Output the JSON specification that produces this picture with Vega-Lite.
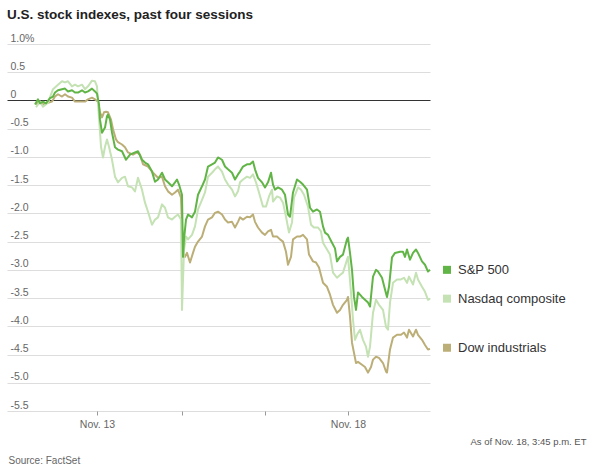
{
"$schema": "https://vega.github.io/schema/vega-lite/v6.json",
"width": 423, "height": 367,
"autosize": {"type": "none"},
"padding": {"left": 7, "top": 44, "right": 162, "bottom": 60},
"background": "white",
"config": {"view": {"stroke": null}},
"title": {"text": "U.S. stock indexes, past four sessions", "anchor": "start", "frame": "group", "font": "Liberation Sans", "fontSize": 13.5, "fontWeight": "bold", "color": "#222222", "offset": 12},
"datasets": {
"series": [
{"s":"Dow industrials","t":36,"v":-0.07},{"s":"Dow industrials","t":40,"v":-0.02},{"s":"Dow industrials","t":43,"v":-0.07},{"s":"Dow industrials","t":48,"v":-0.04},{"s":"Dow industrials","t":52,"v":-0.02},{"s":"Dow industrials","t":55,"v":0.07},{"s":"Dow industrials","t":58,"v":0.11},{"s":"Dow industrials","t":62,"v":0.07},{"s":"Dow industrials","t":65,"v":0.11},{"s":"Dow industrials","t":68,"v":0.07},{"s":"Dow industrials","t":72,"v":0.05},{"s":"Dow industrials","t":75,"v":-0.02},{"s":"Dow industrials","t":78,"v":-0.02},{"s":"Dow industrials","t":82,"v":-0.02},{"s":"Dow industrials","t":85,"v":-0.02},{"s":"Dow industrials","t":88,"v":0.02},{"s":"Dow industrials","t":92,"v":0.05},{"s":"Dow industrials","t":95,"v":0.02},{"s":"Dow industrials","t":98,"v":-0.02},{"s":"Dow industrials","t":100,"v":-0.21},{"s":"Dow industrials","t":102,"v":-0.30},{"s":"Dow industrials","t":104,"v":-0.21},{"s":"Dow industrials","t":106,"v":-0.20},{"s":"Dow industrials","t":108,"v":-0.21},{"s":"Dow industrials","t":111,"v":-0.34},{"s":"Dow industrials","t":113,"v":-0.51},{"s":"Dow industrials","t":116,"v":-0.69},{"s":"Dow industrials","t":118,"v":-0.74},{"s":"Dow industrials","t":122,"v":-0.78},{"s":"Dow industrials","t":125,"v":-0.83},{"s":"Dow industrials","t":128,"v":-0.92},{"s":"Dow industrials","t":133,"v":-0.96},{"s":"Dow industrials","t":137,"v":-0.92},{"s":"Dow industrials","t":140,"v":-0.96},{"s":"Dow industrials","t":143,"v":-1.13},{"s":"Dow industrials","t":148,"v":-1.17},{"s":"Dow industrials","t":153,"v":-1.28},{"s":"Dow industrials","t":158,"v":-1.37},{"s":"Dow industrials","t":162,"v":-1.35},{"s":"Dow industrials","t":165,"v":-1.52},{"s":"Dow industrials","t":168,"v":-1.61},{"s":"Dow industrials","t":172,"v":-1.67},{"s":"Dow industrials","t":175,"v":-1.63},{"s":"Dow industrials","t":178,"v":-1.58},{"s":"Dow industrials","t":181,"v":-1.72},{"s":"Dow industrials","t":183,"v":-2.70},{"s":"Dow industrials","t":185,"v":-2.77},{"s":"Dow industrials","t":187,"v":-2.70},{"s":"Dow industrials","t":190,"v":-2.87},{"s":"Dow industrials","t":193,"v":-2.70},{"s":"Dow industrials","t":195,"v":-2.59},{"s":"Dow industrials","t":198,"v":-2.50},{"s":"Dow industrials","t":202,"v":-2.41},{"s":"Dow industrials","t":205,"v":-2.23},{"s":"Dow industrials","t":208,"v":-2.11},{"s":"Dow industrials","t":212,"v":-2.07},{"s":"Dow industrials","t":215,"v":-1.99},{"s":"Dow industrials","t":218,"v":-1.97},{"s":"Dow industrials","t":222,"v":-2.02},{"s":"Dow industrials","t":225,"v":-2.11},{"s":"Dow industrials","t":228,"v":-2.16},{"s":"Dow industrials","t":232,"v":-2.15},{"s":"Dow industrials","t":235,"v":-2.25},{"s":"Dow industrials","t":238,"v":-2.15},{"s":"Dow industrials","t":240,"v":-2.07},{"s":"Dow industrials","t":243,"v":-2.11},{"s":"Dow industrials","t":247,"v":-2.06},{"s":"Dow industrials","t":250,"v":-2.07},{"s":"Dow industrials","t":253,"v":-2.02},{"s":"Dow industrials","t":255,"v":-2.15},{"s":"Dow industrials","t":258,"v":-2.25},{"s":"Dow industrials","t":262,"v":-2.34},{"s":"Dow industrials","t":265,"v":-2.38},{"s":"Dow industrials","t":268,"v":-2.32},{"s":"Dow industrials","t":271,"v":-2.29},{"s":"Dow industrials","t":273,"v":-2.41},{"s":"Dow industrials","t":277,"v":-2.41},{"s":"Dow industrials","t":280,"v":-2.46},{"s":"Dow industrials","t":283,"v":-2.50},{"s":"Dow industrials","t":286,"v":-2.68},{"s":"Dow industrials","t":288,"v":-2.91},{"s":"Dow industrials","t":291,"v":-2.77},{"s":"Dow industrials","t":293,"v":-2.46},{"s":"Dow industrials","t":297,"v":-2.41},{"s":"Dow industrials","t":300,"v":-2.41},{"s":"Dow industrials","t":303,"v":-2.38},{"s":"Dow industrials","t":307,"v":-2.46},{"s":"Dow industrials","t":309,"v":-2.73},{"s":"Dow industrials","t":313,"v":-2.85},{"s":"Dow industrials","t":316,"v":-2.87},{"s":"Dow industrials","t":319,"v":-2.96},{"s":"Dow industrials","t":323,"v":-3.23},{"s":"Dow industrials","t":327,"v":-3.30},{"s":"Dow industrials","t":330,"v":-3.44},{"s":"Dow industrials","t":333,"v":-3.62},{"s":"Dow industrials","t":337,"v":-3.76},{"s":"Dow industrials","t":340,"v":-3.71},{"s":"Dow industrials","t":343,"v":-3.62},{"s":"Dow industrials","t":347,"v":-3.53},{"s":"Dow industrials","t":348,"v":-3.48},{"s":"Dow industrials","t":350,"v":-3.83},{"s":"Dow industrials","t":352,"v":-4.29},{"s":"Dow industrials","t":354,"v":-4.47},{"s":"Dow industrials","t":356,"v":-4.65},{"s":"Dow industrials","t":358,"v":-4.63},{"s":"Dow industrials","t":362,"v":-4.68},{"s":"Dow industrials","t":365,"v":-4.72},{"s":"Dow industrials","t":368,"v":-4.82},{"s":"Dow industrials","t":371,"v":-4.72},{"s":"Dow industrials","t":373,"v":-4.59},{"s":"Dow industrials","t":376,"v":-4.54},{"s":"Dow industrials","t":379,"v":-4.56},{"s":"Dow industrials","t":383,"v":-4.65},{"s":"Dow industrials","t":386,"v":-4.80},{"s":"Dow industrials","t":387,"v":-4.82},{"s":"Dow industrials","t":390,"v":-4.41},{"s":"Dow industrials","t":393,"v":-4.20},{"s":"Dow industrials","t":397,"v":-4.15},{"s":"Dow industrials","t":401,"v":-4.15},{"s":"Dow industrials","t":404,"v":-4.11},{"s":"Dow industrials","t":407,"v":-4.20},{"s":"Dow industrials","t":409,"v":-4.06},{"s":"Dow industrials","t":413,"v":-4.18},{"s":"Dow industrials","t":416,"v":-4.06},{"s":"Dow industrials","t":418,"v":-4.15},{"s":"Dow industrials","t":422,"v":-4.24},{"s":"Dow industrials","t":425,"v":-4.33},{"s":"Dow industrials","t":428,"v":-4.41},{"s":"Dow industrials","t":430,"v":-4.40},
{"s":"Nasdaq composite","t":36,"v":-0.12},{"s":"Nasdaq composite","t":40,"v":-0.02},{"s":"Nasdaq composite","t":43,"v":-0.11},{"s":"Nasdaq composite","t":48,"v":-0.04},{"s":"Nasdaq composite","t":53,"v":0.20},{"s":"Nasdaq composite","t":58,"v":0.28},{"s":"Nasdaq composite","t":62,"v":0.34},{"s":"Nasdaq composite","t":65,"v":0.32},{"s":"Nasdaq composite","t":68,"v":0.34},{"s":"Nasdaq composite","t":72,"v":0.25},{"s":"Nasdaq composite","t":75,"v":0.28},{"s":"Nasdaq composite","t":78,"v":0.25},{"s":"Nasdaq composite","t":82,"v":0.28},{"s":"Nasdaq composite","t":85,"v":0.20},{"s":"Nasdaq composite","t":88,"v":0.25},{"s":"Nasdaq composite","t":92,"v":0.35},{"s":"Nasdaq composite","t":95,"v":0.34},{"s":"Nasdaq composite","t":97,"v":0.25},{"s":"Nasdaq composite","t":98,"v":-0.04},{"s":"Nasdaq composite","t":101,"v":-0.82},{"s":"Nasdaq composite","t":103,"v":-1.01},{"s":"Nasdaq composite","t":105,"v":-0.82},{"s":"Nasdaq composite","t":107,"v":-0.69},{"s":"Nasdaq composite","t":109,"v":-0.82},{"s":"Nasdaq composite","t":112,"v":-1.05},{"s":"Nasdaq composite","t":115,"v":-1.35},{"s":"Nasdaq composite","t":118,"v":-1.45},{"s":"Nasdaq composite","t":122,"v":-1.37},{"s":"Nasdaq composite","t":125,"v":-1.35},{"s":"Nasdaq composite","t":128,"v":-1.52},{"s":"Nasdaq composite","t":132,"v":-1.54},{"s":"Nasdaq composite","t":135,"v":-1.61},{"s":"Nasdaq composite","t":138,"v":-1.37},{"s":"Nasdaq composite","t":142,"v":-1.58},{"s":"Nasdaq composite","t":145,"v":-1.81},{"s":"Nasdaq composite","t":148,"v":-1.97},{"s":"Nasdaq composite","t":152,"v":-2.20},{"s":"Nasdaq composite","t":155,"v":-2.11},{"s":"Nasdaq composite","t":158,"v":-2.07},{"s":"Nasdaq composite","t":162,"v":-1.84},{"s":"Nasdaq composite","t":165,"v":-1.90},{"s":"Nasdaq composite","t":168,"v":-2.07},{"s":"Nasdaq composite","t":172,"v":-2.11},{"s":"Nasdaq composite","t":175,"v":-2.06},{"s":"Nasdaq composite","t":178,"v":-2.02},{"s":"Nasdaq composite","t":181,"v":-2.11},{"s":"Nasdaq composite","t":182,"v":-3.71},{"s":"Nasdaq composite","t":184,"v":-2.64},{"s":"Nasdaq composite","t":186,"v":-2.41},{"s":"Nasdaq composite","t":188,"v":-2.46},{"s":"Nasdaq composite","t":192,"v":-2.38},{"s":"Nasdaq composite","t":195,"v":-2.23},{"s":"Nasdaq composite","t":198,"v":-1.93},{"s":"Nasdaq composite","t":202,"v":-1.76},{"s":"Nasdaq composite","t":205,"v":-1.63},{"s":"Nasdaq composite","t":208,"v":-1.35},{"s":"Nasdaq composite","t":212,"v":-1.28},{"s":"Nasdaq composite","t":215,"v":-1.22},{"s":"Nasdaq composite","t":218,"v":-1.17},{"s":"Nasdaq composite","t":222,"v":-1.26},{"s":"Nasdaq composite","t":225,"v":-1.40},{"s":"Nasdaq composite","t":228,"v":-1.49},{"s":"Nasdaq composite","t":232,"v":-1.58},{"s":"Nasdaq composite","t":235,"v":-1.70},{"s":"Nasdaq composite","t":238,"v":-1.61},{"s":"Nasdaq composite","t":240,"v":-1.45},{"s":"Nasdaq composite","t":243,"v":-1.40},{"s":"Nasdaq composite","t":247,"v":-1.35},{"s":"Nasdaq composite","t":250,"v":-1.37},{"s":"Nasdaq composite","t":253,"v":-1.31},{"s":"Nasdaq composite","t":256,"v":-1.45},{"s":"Nasdaq composite","t":259,"v":-1.63},{"s":"Nasdaq composite","t":263,"v":-1.88},{"s":"Nasdaq composite","t":266,"v":-1.88},{"s":"Nasdaq composite","t":269,"v":-1.70},{"s":"Nasdaq composite","t":272,"v":-1.58},{"s":"Nasdaq composite","t":273,"v":-1.79},{"s":"Nasdaq composite","t":277,"v":-1.70},{"s":"Nasdaq composite","t":280,"v":-1.72},{"s":"Nasdaq composite","t":283,"v":-1.81},{"s":"Nasdaq composite","t":286,"v":-2.06},{"s":"Nasdaq composite","t":289,"v":-2.34},{"s":"Nasdaq composite","t":292,"v":-2.16},{"s":"Nasdaq composite","t":294,"v":-1.72},{"s":"Nasdaq composite","t":298,"v":-1.54},{"s":"Nasdaq composite","t":301,"v":-1.58},{"s":"Nasdaq composite","t":304,"v":-1.67},{"s":"Nasdaq composite","t":308,"v":-1.88},{"s":"Nasdaq composite","t":311,"v":-2.20},{"s":"Nasdaq composite","t":314,"v":-2.25},{"s":"Nasdaq composite","t":318,"v":-2.25},{"s":"Nasdaq composite","t":321,"v":-2.32},{"s":"Nasdaq composite","t":323,"v":-2.52},{"s":"Nasdaq composite","t":327,"v":-2.64},{"s":"Nasdaq composite","t":330,"v":-2.73},{"s":"Nasdaq composite","t":333,"v":-3.05},{"s":"Nasdaq composite","t":337,"v":-3.14},{"s":"Nasdaq composite","t":340,"v":-3.09},{"s":"Nasdaq composite","t":343,"v":-3.05},{"s":"Nasdaq composite","t":347,"v":-2.82},{"s":"Nasdaq composite","t":348,"v":-2.77},{"s":"Nasdaq composite","t":351,"v":-3.40},{"s":"Nasdaq composite","t":353,"v":-3.88},{"s":"Nasdaq composite","t":355,"v":-4.24},{"s":"Nasdaq composite","t":357,"v":-4.15},{"s":"Nasdaq composite","t":360,"v":-4.06},{"s":"Nasdaq composite","t":363,"v":-4.24},{"s":"Nasdaq composite","t":366,"v":-4.36},{"s":"Nasdaq composite","t":368,"v":-4.54},{"s":"Nasdaq composite","t":370,"v":-4.36},{"s":"Nasdaq composite","t":373,"v":-3.76},{"s":"Nasdaq composite","t":376,"v":-3.53},{"s":"Nasdaq composite","t":379,"v":-3.62},{"s":"Nasdaq composite","t":383,"v":-3.71},{"s":"Nasdaq composite","t":386,"v":-4.01},{"s":"Nasdaq composite","t":388,"v":-4.06},{"s":"Nasdaq composite","t":390,"v":-3.58},{"s":"Nasdaq composite","t":393,"v":-3.23},{"s":"Nasdaq composite","t":397,"v":-3.17},{"s":"Nasdaq composite","t":401,"v":-3.17},{"s":"Nasdaq composite","t":404,"v":-3.14},{"s":"Nasdaq composite","t":407,"v":-3.23},{"s":"Nasdaq composite","t":409,"v":-3.12},{"s":"Nasdaq composite","t":413,"v":-3.26},{"s":"Nasdaq composite","t":416,"v":-3.05},{"s":"Nasdaq composite","t":418,"v":-3.17},{"s":"Nasdaq composite","t":422,"v":-3.30},{"s":"Nasdaq composite","t":425,"v":-3.39},{"s":"Nasdaq composite","t":428,"v":-3.53},{"s":"Nasdaq composite","t":430,"v":-3.51},
{"s":"S&P 500","t":35,"v":-0.07},{"s":"S&P 500","t":38,"v":0.02},{"s":"S&P 500","t":40,"v":-0.05},{"s":"S&P 500","t":43,"v":-0.02},{"s":"S&P 500","t":46,"v":-0.05},{"s":"S&P 500","t":50,"v":0.04},{"s":"S&P 500","t":53,"v":0.07},{"s":"S&P 500","t":55,"v":0.14},{"s":"S&P 500","t":58,"v":0.18},{"s":"S&P 500","t":62,"v":0.20},{"s":"S&P 500","t":65,"v":0.21},{"s":"S&P 500","t":68,"v":0.16},{"s":"S&P 500","t":72,"v":0.18},{"s":"S&P 500","t":75,"v":0.14},{"s":"S&P 500","t":78,"v":0.14},{"s":"S&P 500","t":82,"v":0.18},{"s":"S&P 500","t":85,"v":0.14},{"s":"S&P 500","t":88,"v":0.16},{"s":"S&P 500","t":92,"v":0.21},{"s":"S&P 500","t":95,"v":0.16},{"s":"S&P 500","t":97,"v":0.12},{"s":"S&P 500","t":99,"v":-0.07},{"s":"S&P 500","t":100,"v":-0.34},{"s":"S&P 500","t":102,"v":-0.57},{"s":"S&P 500","t":105,"v":-0.48},{"s":"S&P 500","t":107,"v":-0.28},{"s":"S&P 500","t":108,"v":-0.25},{"s":"S&P 500","t":110,"v":-0.34},{"s":"S&P 500","t":112,"v":-0.57},{"s":"S&P 500","t":115,"v":-0.83},{"s":"S&P 500","t":118,"v":-0.87},{"s":"S&P 500","t":122,"v":-0.90},{"s":"S&P 500","t":126,"v":-1.05},{"s":"S&P 500","t":130,"v":-0.96},{"s":"S&P 500","t":135,"v":-0.92},{"s":"S&P 500","t":138,"v":-0.90},{"s":"S&P 500","t":142,"v":-1.05},{"s":"S&P 500","t":145,"v":-1.10},{"s":"S&P 500","t":148,"v":-1.13},{"s":"S&P 500","t":152,"v":-1.26},{"s":"S&P 500","t":155,"v":-1.44},{"s":"S&P 500","t":158,"v":-1.40},{"s":"S&P 500","t":162,"v":-1.28},{"s":"S&P 500","t":165,"v":-1.40},{"s":"S&P 500","t":168,"v":-1.45},{"s":"S&P 500","t":172,"v":-1.52},{"s":"S&P 500","t":175,"v":-1.45},{"s":"S&P 500","t":177,"v":-1.40},{"s":"S&P 500","t":179,"v":-1.49},{"s":"S&P 500","t":182,"v":-1.67},{"s":"S&P 500","t":183,"v":-2.77},{"s":"S&P 500","t":184,"v":-2.46},{"s":"S&P 500","t":186,"v":-2.11},{"s":"S&P 500","t":188,"v":-2.02},{"s":"S&P 500","t":192,"v":-2.07},{"s":"S&P 500","t":195,"v":-1.97},{"s":"S&P 500","t":198,"v":-1.67},{"s":"S&P 500","t":202,"v":-1.52},{"s":"S&P 500","t":205,"v":-1.40},{"s":"S&P 500","t":208,"v":-1.17},{"s":"S&P 500","t":212,"v":-1.13},{"s":"S&P 500","t":215,"v":-1.10},{"s":"S&P 500","t":218,"v":-1.01},{"s":"S&P 500","t":222,"v":-1.05},{"s":"S&P 500","t":225,"v":-1.17},{"s":"S&P 500","t":228,"v":-1.22},{"s":"S&P 500","t":232,"v":-1.28},{"s":"S&P 500","t":235,"v":-1.40},{"s":"S&P 500","t":238,"v":-1.31},{"s":"S&P 500","t":240,"v":-1.26},{"s":"S&P 500","t":243,"v":-1.17},{"s":"S&P 500","t":247,"v":-1.13},{"s":"S&P 500","t":250,"v":-1.13},{"s":"S&P 500","t":253,"v":-1.08},{"s":"S&P 500","t":255,"v":-1.22},{"s":"S&P 500","t":258,"v":-1.37},{"s":"S&P 500","t":262,"v":-1.45},{"s":"S&P 500","t":265,"v":-1.54},{"s":"S&P 500","t":268,"v":-1.45},{"s":"S&P 500","t":271,"v":-1.28},{"s":"S&P 500","t":273,"v":-1.49},{"s":"S&P 500","t":275,"v":-1.58},{"s":"S&P 500","t":278,"v":-1.54},{"s":"S&P 500","t":282,"v":-1.58},{"s":"S&P 500","t":285,"v":-1.67},{"s":"S&P 500","t":288,"v":-2.02},{"s":"S&P 500","t":290,"v":-2.06},{"s":"S&P 500","t":293,"v":-1.63},{"s":"S&P 500","t":297,"v":-1.40},{"s":"S&P 500","t":300,"v":-1.44},{"s":"S&P 500","t":303,"v":-1.49},{"s":"S&P 500","t":307,"v":-1.58},{"s":"S&P 500","t":310,"v":-1.90},{"s":"S&P 500","t":313,"v":-1.97},{"s":"S&P 500","t":317,"v":-1.93},{"s":"S&P 500","t":320,"v":-1.97},{"s":"S&P 500","t":323,"v":-2.23},{"s":"S&P 500","t":325,"v":-2.34},{"s":"S&P 500","t":328,"v":-2.38},{"s":"S&P 500","t":332,"v":-2.52},{"s":"S&P 500","t":335,"v":-2.62},{"s":"S&P 500","t":337,"v":-2.85},{"s":"S&P 500","t":340,"v":-2.77},{"s":"S&P 500","t":343,"v":-2.73},{"s":"S&P 500","t":347,"v":-2.46},{"s":"S&P 500","t":348,"v":-2.43},{"s":"S&P 500","t":350,"v":-2.70},{"s":"S&P 500","t":352,"v":-3.00},{"s":"S&P 500","t":354,"v":-3.48},{"s":"S&P 500","t":356,"v":-3.71},{"s":"S&P 500","t":358,"v":-3.40},{"s":"S&P 500","t":362,"v":-3.48},{"s":"S&P 500","t":365,"v":-3.53},{"s":"S&P 500","t":368,"v":-3.58},{"s":"S&P 500","t":370,"v":-3.65},{"s":"S&P 500","t":373,"v":-3.12},{"s":"S&P 500","t":376,"v":-3.00},{"s":"S&P 500","t":378,"v":-3.03},{"s":"S&P 500","t":382,"v":-3.14},{"s":"S&P 500","t":385,"v":-3.35},{"s":"S&P 500","t":387,"v":-3.48},{"s":"S&P 500","t":389,"v":-3.30},{"s":"S&P 500","t":392,"v":-2.78},{"s":"S&P 500","t":395,"v":-2.70},{"s":"S&P 500","t":400,"v":-2.68},{"s":"S&P 500","t":403,"v":-2.68},{"s":"S&P 500","t":405,"v":-2.77},{"s":"S&P 500","t":407,"v":-2.64},{"s":"S&P 500","t":410,"v":-2.82},{"s":"S&P 500","t":413,"v":-2.70},{"s":"S&P 500","t":416,"v":-2.64},{"s":"S&P 500","t":418,"v":-2.70},{"s":"S&P 500","t":422,"v":-2.85},{"s":"S&P 500","t":425,"v":-2.91},{"s":"S&P 500","t":428,"v":-3.03},{"s":"S&P 500","t":430,"v":-3.00}
],
"ends": [
{"s":"S&P 500","t":430,"v":-3.0},
{"s":"Nasdaq composite","t":430,"v":-3.51},
{"s":"Dow industrials","t":430,"v":-4.38}
]
},
"encoding": {
"x": {"field": "t", "type": "quantitative",
 "scale": {"domain": [7, 430], "nice": false, "zero": false},
 "axis": {"values": [97, 182, 265, 348],
  "labelExpr": "datum.value == 97 ? 'Nov. 13' : datum.value == 348 ? 'Nov. 18' : ''",
  "grid": false, "domain": false, "ticks": true, "tickSize": 4, "tickColor": "#999999", "tickWidth": 1,
  "labelPadding": 4, "labelFont": "Liberation Sans", "labelFontSize": 10.5, "labelColor": "#666666",
  "title": "As of Nov. 18, 3:45 p.m. ET", "titleX": 579, "titleY": 33, "titleAlign": "right", "titleBaseline": "alphabetic",
  "titleFont": "Liberation Sans", "titleFontSize": 9.5, "titleFontWeight": "normal", "titleColor": "#555555"}},
"y": {"field": "v", "type": "quantitative",
 "scale": {"domain": [-5.5, 1.0], "nice": false, "zero": false},
 "axis": {"values": [1, 0.5, 0, -0.5, -1, -1.5, -2, -2.5, -3, -3.5, -4, -4.5, -5, -5.5],
  "labelExpr": "datum.value == 1 ? '1.0%' : datum.value == 0 ? '0' : replace(format(datum.value, '.1f'), '\u2212', '-')",
  "grid": true, "gridColor": {"condition": {"test": "datum.value === 0", "value": "#333333"}, "value": "#dddddd"}, "gridWidth": 1,
  "domain": false, "ticks": false, "tickSize": 0,
  "labelAlign": "left", "labelBaseline": "alphabetic", "labelPadding": -3, "labelOffset": -3,
  "labelFont": "Liberation Sans", "labelFontSize": 10.5, "labelColor": "#666666",
  "title": "Source: FactSet", "titleAngle": 0, "titleAlign": "left", "titleBaseline": "alphabetic", "titleX": 1, "titleY": 419,
  "titleFont": "Liberation Sans", "titleFontSize": 10, "titleFontWeight": "normal", "titleColor": "#666666"}}
},
"layer": [
{"data": {"name": "series"},
 "mark": {"type": "line", "strokeWidth": 2, "strokeJoin": "round"},
 "encoding": {"color": {"field": "s", "type": "nominal",
   "scale": {"domain": ["S&P 500", "Nasdaq composite", "Dow industrials"], "range": ["#61b546", "#c4e2b3", "#bcae77"]},
   "legend": null}}},
{"data": {"name": "ends"},
 "mark": {"type": "square", "size": 64, "xOffset": 17, "filled": true, "opacity": 1},
 "encoding": {"color": {"field": "s", "type": "nominal", "legend": null}}},
{"data": {"name": "ends"},
 "mark": {"type": "text", "align": "left", "baseline": "middle", "dx": 28, "font": "Liberation Sans", "fontSize": 13, "color": "#333333"},
 "encoding": {"text": {"field": "s"}}}
]
}
